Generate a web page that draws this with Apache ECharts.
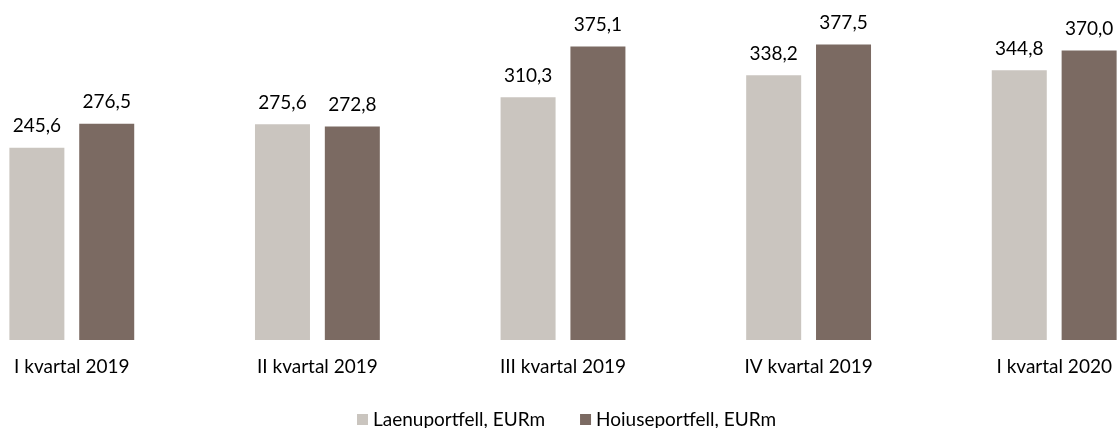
<!DOCTYPE html>
<html>
<head>
<meta charset="utf-8">
<script src="https://cdn.jsdelivr.net/npm/echarts@6/dist/echarts.min.js"></script>
<style>
  html, body { margin: 0; padding: 0; background: #fff; overflow: hidden; }
  body { width: 1117px; height: 428px; position: relative; }
  /* the original chart is cropped on both sides */
  #chart-dom { position: absolute; left: -51px; top: 0; width: 1228px; height: 428px; }
</style>
</head>
<body>
<div id="chart-dom"></div>
<script>
// andmed
const categories = ['I kvartal 2019', 'II kvartal 2019', 'III kvartal 2019', 'IV kvartal 2019', 'I kvartal 2020'];
const seriesNames = ['Laenuportfell, EURm', 'Hoiuseportfell, EURm'];
const laenuportfell = [245.6, 275.6, 310.3, 338.2, 344.8];
const hoiuseportfell = [276.5, 272.8, 375.1, 377.5, 370.0];

const myChart = echarts.init(document.getElementById('chart-dom'));
const font = 'Lato';

const valueLabel = {
  show: true,
  position: 'top',
  distance: 12,
  color: '#000',
  fontFamily: font,
  fontSize: 19,
  formatter: p => p.value.toFixed(1).replace('.', ',')
};

const option = {
  animation: false,
  textStyle: { fontFamily: font },
  grid: {
    left: 0,
    right: 0,
    top: 27,
    bottom: 88
  },
  legend: {
    left: 403,
    top: 405,
    icon: 'rect',
    itemWidth: 11,
    itemHeight: 11,
    itemGap: 35,
    textStyle: { color: '#000', fontFamily: font, fontSize: 19 },
    data: seriesNames
  },
  xAxis: {
    type: 'category',
    data: categories,
    axisLine: { show: false },
    axisTick: { show: false },
    axisLabel: { color: '#000', fontFamily: font, fontSize: 19, margin: 17 }
  },
  yAxis: {
    type: 'value',
    min: 0,
    max: 400,
    show: false,
    splitLine: { show: false }
  },
  series: [
    {
      name: seriesNames[0],
      type: 'bar',
      data: laenuportfell,
      barWidth: 55,
      barGap: '27%',
      itemStyle: { color: '#CAC5BF' },
      label: valueLabel
    },
    {
      name: seriesNames[1],
      type: 'bar',
      data: hoiuseportfell,
      barWidth: 55,
      itemStyle: { color: '#7B6A62' },
      label: valueLabel
    }
  ]
};
myChart.setOption(option, true);
</script>
</body>
</html>
